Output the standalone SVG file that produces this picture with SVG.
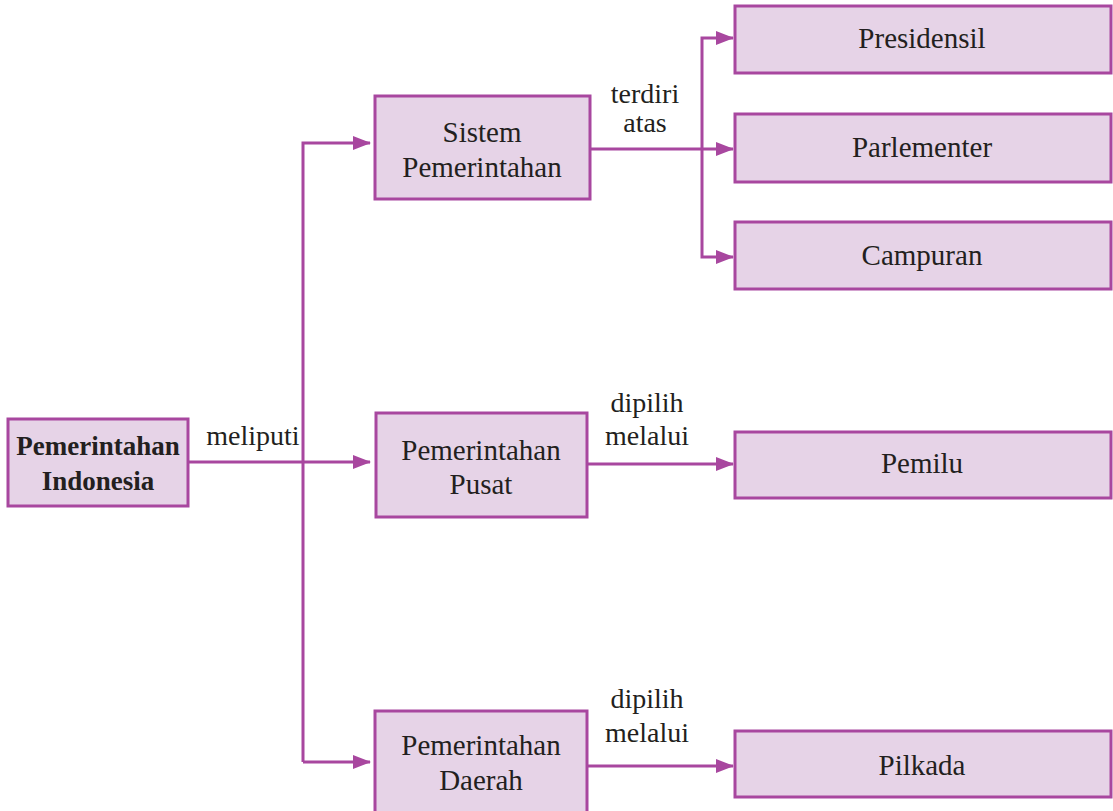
<svg xmlns="http://www.w3.org/2000/svg" width="1113" height="811" viewBox="0 0 1113 811" font-family="Liberation Serif, DejaVu Serif, serif">
<style>
.box{fill:#e6d3e7;stroke:#a8479f;stroke-width:3}
.t{font-size:29px;fill:#231f20;text-anchor:middle}
.b{font-weight:bold;font-size:27px}
.l{font-size:28px}
.c{fill:none;stroke:#a8479f;stroke-width:3}
</style>
<defs>
<marker id="ah" markerWidth="18" markerHeight="14" refX="17" refY="7" orient="auto" markerUnits="userSpaceOnUse">
<path d="M0,0 L18,7 L0,14 Z" fill="#a8479f"/>
</marker>
</defs>
<rect width="1113" height="811" fill="#ffffff"/>
<g id="connectors">
<path class="c" d="M188,462 H370" marker-end="url(#ah)"/>
<path class="c" d="M303,762 V143 H370" marker-end="url(#ah)"/>
<path class="c" d="M303,762 H370" marker-end="url(#ah)"/>
<path class="c" d="M590,149 H733" marker-end="url(#ah)"/>
<path class="c" d="M702,149 V38 H733" marker-end="url(#ah)"/>
<path class="c" d="M702,149 V257 H733" marker-end="url(#ah)"/>
<path class="c" d="M587,464 H733" marker-end="url(#ah)"/>
<path class="c" d="M587,766 H733" marker-end="url(#ah)"/>
<text class="t l" x="253" y="445">meliputi</text>
<text class="t l" x="645" y="103">terdiri</text>
<text class="t l" x="645" y="132">atas</text>
<text class="t l" x="647" y="412">dipilih</text>
<text class="t l" x="647" y="445">melalui</text>
<text class="t l" x="647" y="708">dipilih</text>
<text class="t l" x="647" y="742">melalui</text>
</g>
<g id="root">
<rect class="box" x="8" y="419" width="180" height="87"/>
<text class="t b" x="98" y="455">Pemerintahan</text>
<text class="t b" x="98" y="490">Indonesia</text>
</g>
<g id="sistem">
<rect class="box" x="375" y="96" width="215" height="103"/>
<text class="t" x="482" y="142">Sistem</text>
<text class="t" x="482" y="177">Pemerintahan</text>
</g>
<g id="pusat">
<rect class="box" x="376" y="413" width="211" height="104"/>
<text class="t" x="481" y="460">Pemerintahan</text>
<text class="t" x="481" y="494">Pusat</text>
</g>
<g id="daerah">
<rect class="box" x="375" y="711" width="212" height="110"/>
<text class="t" x="481" y="755">Pemerintahan</text>
<text class="t" x="481" y="790">Daerah</text>
</g>
<g id="presidensil">
<rect class="box" x="735" y="6" width="376" height="67"/>
<text class="t" x="922" y="48">Presidensil</text>
</g>
<g id="parlementer">
<rect class="box" x="735" y="114" width="376" height="68"/>
<text class="t" x="922" y="157">Parlementer</text>
</g>
<g id="campuran">
<rect class="box" x="735" y="222" width="376" height="67"/>
<text class="t" x="922" y="265">Campuran</text>
</g>
<g id="pemilu">
<rect class="box" x="735" y="432" width="376" height="66"/>
<text class="t" x="922" y="473">Pemilu</text>
</g>
<g id="pilkada">
<rect class="box" x="735" y="731" width="376" height="66"/>
<text class="t" x="922" y="775">Pilkada</text>
</g>
</svg>
